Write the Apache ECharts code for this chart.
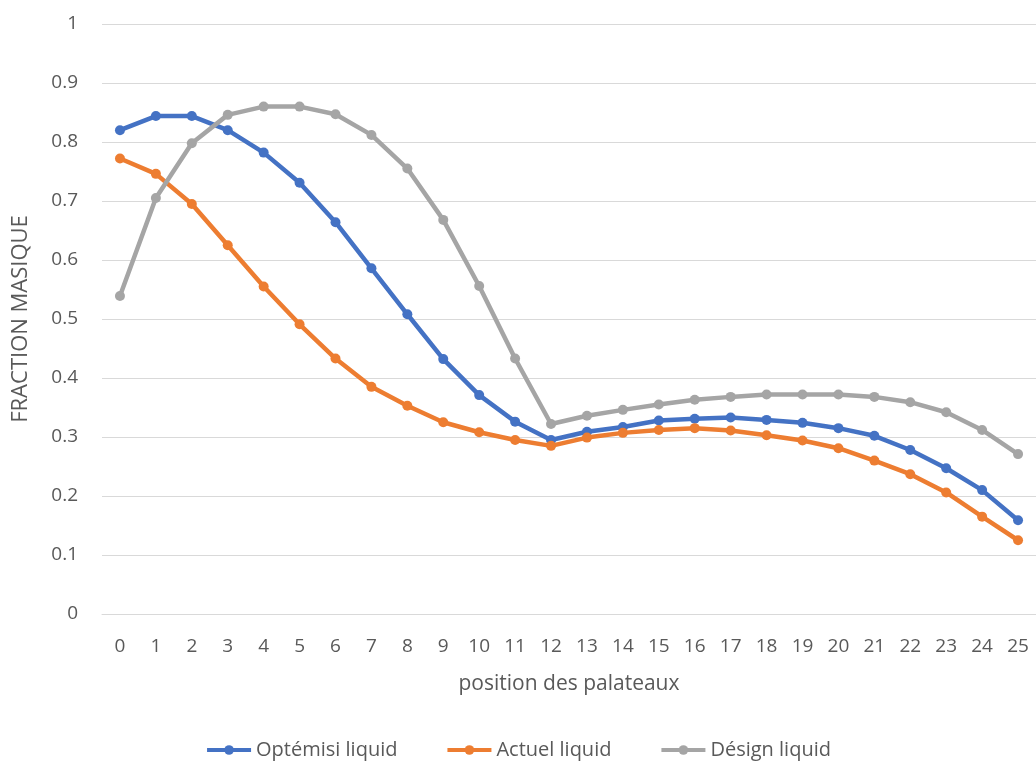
<!DOCTYPE html>
<html>
<head>
<meta charset="utf-8">
<script src="https://cdn.jsdelivr.net/npm/echarts@6/dist/echarts.min.js"></script>
<style>
html,body{margin:0;padding:0;background:#fff;}
#chart{width:1036px;height:767px;}
</style>
</head>
<body>
<div id="chart"></div>
<script>
const categories = ['0','1','2','3','4','5','6','7','8','9','10','11','12','13','14','15','16','17','18','19','20','21','22','23','24','25'];
const optemisi = [0.820,0.844,0.844,0.820,0.782,0.731,0.664,0.586,0.508,0.432,0.371,0.326,0.295,0.309,0.317,0.328,0.331,0.333,0.329,0.324,0.315,0.302,0.278,0.247,0.210,0.159];
const actuel = [0.772,0.746,0.695,0.625,0.555,0.491,0.433,0.385,0.353,0.325,0.308,0.295,0.285,0.299,0.307,0.312,0.315,0.311,0.303,0.294,0.281,0.260,0.237,0.206,0.165,0.125];
const design = [0.539,0.705,0.798,0.846,0.860,0.860,0.847,0.812,0.755,0.668,0.556,0.433,0.322,0.336,0.346,0.355,0.363,0.368,0.372,0.372,0.372,0.368,0.359,0.342,0.312,0.271];
const seriesNames = ['Optémisi liquid','Actuel liquid','Désign liquid'];
const colors = ['#4472C4','#ED7D31','#A5A5A5'];

const font = '"Open Sans", "Noto Sans", sans-serif';
const chart = echarts.init(document.getElementById('chart'));
function mk(name, data, color){
  return {
    name: name, type: 'line', data: data,
    symbol: 'circle', symbolSize: 10,
    lineStyle: {width: 4.5, color: color},
    itemStyle: {color: color},
    smooth: false
  };
}
chart.setOption({
  animation: false,
  color: colors,
  grid: {left: 102, right: 0, top: 24, bottom: 153},
  legend: {
    bottom: 2, left: 'center',
    itemWidth: 44, itemHeight: 12, itemGap: 48,
    lineStyle: {width: 4},
    textStyle: {fontFamily: font, fontSize: 20, color: '#595959'},
    data: seriesNames
  },
  xAxis: {
    type: 'category', data: categories, boundaryGap: true,
    name: 'position des palateaux', nameLocation: 'middle', nameGap: 60,
    nameTextStyle: {fontFamily: font, fontSize: 21, color: '#595959'},
    axisLine: {lineStyle: {color: '#d9d9d9', width: 1}},
    axisTick: {show: false},
    axisLabel: {fontFamily: font, fontSize: 19, color: '#595959', margin: 23, interval: 0}
  },
  yAxis: {
    type: 'value', min: 0, max: 1, interval: 0.1,
    name: 'FRACTION MASIQUE', nameLocation: 'middle', nameGap: 70, nameRotate: 90,
    nameTextStyle: {fontFamily: font, fontSize: 22, color: '#595959'},
    axisLine: {show: false}, axisTick: {show: false},
    axisLabel: {fontFamily: font, fontSize: 19, color: '#595959', margin: 24,
      formatter: v => String(Math.round(v*10)/10)},
    splitLine: {lineStyle: {color: '#d9d9d9', width: 1}}
  },
  series: [mk(seriesNames[0], optemisi, colors[0]), mk(seriesNames[1], actuel, colors[1]), mk(seriesNames[2], design, colors[2])]
});
</script>
</body>
</html>
